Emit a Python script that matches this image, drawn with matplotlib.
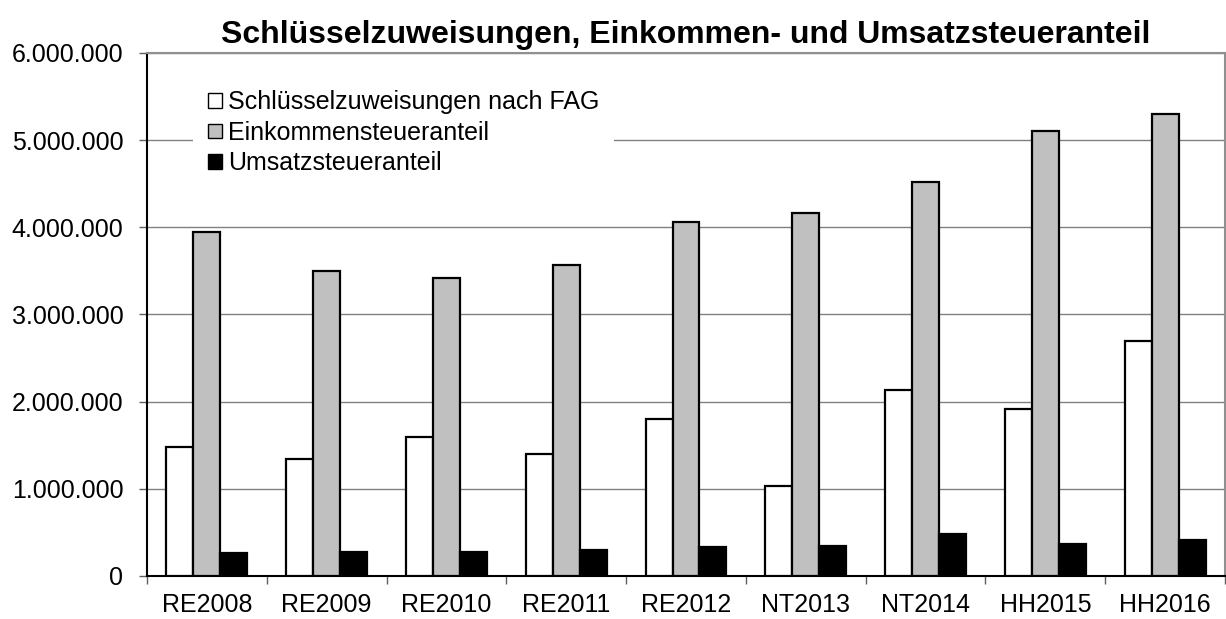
import numpy as np
import matplotlib
matplotlib.use("Agg")
import matplotlib.pyplot as plt
from matplotlib.ticker import FuncFormatter, FixedLocator

plt.rcParams['font.family'] = ['Liberation Sans', 'DejaVu Sans']

categories = ["RE2008", "RE2009", "RE2010", "RE2011", "RE2012",
              "NT2013", "NT2014", "HH2015", "HH2016"]
schluessel = [1481000, 1344000, 1589000, 1394000, 1806000,
              1034000, 2138000, 1917000, 2700000]
einkommen = [3952000, 3494000, 3421000, 3570000, 4066000,
             4162000, 4525000, 5109000, 5295000]
umsatz = [267000, 278000, 278000, 298000, 328000,
          347000, 481000, 363000, 416000]
series_names = ["Schlüsselzuweisungen nach FAG", "Einkommensteueranteil",
                "Umsatzsteueranteil"]

fig = plt.figure(figsize=(12.26, 6.19), dpi=100)
ax = fig.add_axes([0.1199, 0.0695, 0.8793, 0.8449])

x = np.arange(len(categories))
w = 0.225
ax.bar(x - w, schluessel, w, color='white', edgecolor='black', linewidth=1.6,
       label=series_names[0], zorder=3)
ax.bar(x, einkommen, w, color='#c0c0c0', edgecolor='black', linewidth=1.6,
       label=series_names[1], zorder=3)
ax.bar(x + w, umsatz, w, color='black', edgecolor='black', linewidth=1.6,
       label=series_names[2], zorder=3)

ax.set_xlim(-0.5, len(categories) - 0.5)
ax.set_ylim(0, 6000000)
ax.set_yticks(np.arange(0, 6000001, 1000000))
ax.yaxis.set_major_formatter(FuncFormatter(lambda v, p: f"{int(v):,}".replace(",", ".")))
ax.grid(axis='y', color='#808080', linewidth=1.0, zorder=0)
ax.set_axisbelow(True)

ax.set_xticks(x)
ax.set_xticklabels(categories)
ax.xaxis.set_minor_locator(FixedLocator(np.arange(-0.5, len(categories), 1.0)))
ax.tick_params(axis='x', which='major', length=0, pad=12, labelsize=18)
ax.tick_params(axis='x', which='minor', length=6, width=1, color='#606060', direction='out')
ax.tick_params(axis='y', which='major', length=6, width=1, color='#606060', pad=11,
               labelsize=18, direction='out')

for s in ['top', 'right']:
    ax.spines[s].set_color('#909090')
    ax.spines[s].set_linewidth(1.5)
for s in ['left', 'bottom']:
    ax.spines[s].set_color('black')
    ax.spines[s].set_linewidth(1.5)

ax.set_title("Schlüsselzuweisungen, Einkommen- und Umsatzsteueranteil",
             fontsize=23, fontweight='bold', pad=7)

leg = ax.legend(loc='upper left', bbox_to_anchor=(0.031, 0.981), fontsize=18,
                frameon=True, facecolor='white', edgecolor='none', framealpha=1,
                handlelength=0.55, handleheight=0.5, handletextpad=0.25,
                labelspacing=0.26, borderpad=0.6, fancybox=False)
leg.set_zorder(5)
for h in leg.legend_handles:
    h.set_linewidth(1.0)

plt.savefig('out.png', dpi=100)
plt.close()
